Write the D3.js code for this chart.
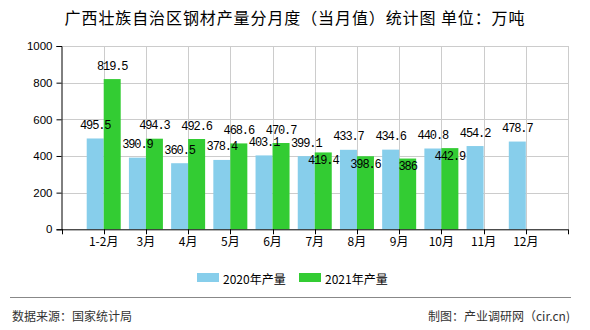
<!DOCTYPE html>
<html>
<head>
<meta charset="utf-8">
<script src="https://cdn.jsdelivr.net/npm/d3@7/dist/d3.min.js"></script>
<style>
  html, body { margin: 0; padding: 0; background: #fff; }
  svg { display: block; }
</style>
</head>
<body>
<svg id="chart" width="590" height="330"></svg>
<script>
// Monthly steel output, Guangxi (10k tonnes)
const months = ["1-2月", "3月", "4月", "5月", "6月", "7月", "8月", "9月", "10月", "11月", "12月"];
const output2020 = [495.5, 390.9, 360.5, 378.4, 403.1, 399.1, 433.7, 434.6, 440.8, 454.2, 478.7];
const output2021 = [819.5, 494.3, 492.6, 468.6, 470.7, 419.4, 398.6, 386, 442.9, null, null];
const yTicks = [0, 200, 400, 600, 800, 1000];
const seriesNames = ["2020年产量", "2021年产量"];
const colors = ["#87CEEB", "#33CC33"];

const svg = d3.select("#chart");
const plotL = 61.5, plotR = 568, plotT = 46, plotB = 229.3;
const barW = 17;

const x = d3.scalePoint().domain(months).range([plotL, plotR]).padding(1);
const y = d3.scaleLinear().domain([0, 1000]).range([plotB, plotT]);

const cjk = "'Noto Sans CJK SC', 'Noto Sans', sans-serif";
const mono = "'Liberation Mono', 'DejaVu Sans Mono', monospace";

// Title
svg.append("text")
  .attr("x", 295).attr("y", 24)
  .attr("text-anchor", "middle")
  .style("font-family", cjk).style("font-size", "16px")
  .style("letter-spacing", "0.9px")
  .attr("fill", "#000")
  .text("广西壮族自治区钢材产量分月度（当月值）统计图 单位：万吨");

// Grid
const grid = svg.append("g");
grid.selectAll("line.h").data(yTicks.filter(d => d > 0)).join("line")
  .attr("x1", plotL).attr("x2", plotR)
  .attr("y1", d => Math.round(y(d)) + 0.5).attr("y2", d => Math.round(y(d)) + 0.5)
  .attr("stroke", "#cccccc").attr("stroke-width", 1);
const vLines = months.map(m => x(m)).concat([plotR]);
grid.selectAll("line.v").data(vLines).join("line")
  .attr("x1", d => Math.round(d) + 0.5).attr("x2", d => Math.round(d) + 0.5)
  .attr("y1", plotT).attr("y2", plotB)
  .attr("stroke", "#cccccc").attr("stroke-width", 1);

// Bars
const rows = months.map((m, i) => ({ m, a: output2020[i], b: output2021[i] }));
const bars = svg.append("g");
bars.selectAll("rect.a").data(rows.filter(r => r.a != null)).join("rect")
  .attr("x", r => x(r.m) - barW).attr("width", barW)
  .attr("y", r => y(r.a)).attr("height", r => y(0) - y(r.a))
  .attr("fill", colors[0]);
bars.selectAll("rect.b").data(rows.filter(r => r.b != null)).join("rect")
  .attr("x", r => x(r.m)).attr("width", barW)
  .attr("y", r => y(r.b)).attr("height", r => y(0) - y(r.b))
  .attr("fill", colors[1]);

// Axes
const yAxis = d3.axisLeft(y).tickValues(yTicks).tickSize(5).tickPadding(4).tickFormat(d3.format("d"));
const gy = svg.append("g").attr("transform", `translate(${plotL},0)`).call(yAxis);
gy.select(".domain").attr("stroke", "#000");
gy.selectAll(".tick line").attr("stroke", "#000");
gy.selectAll(".tick text")
  .style("font-family", "'Liberation Sans', Arial, sans-serif").style("font-size", "11.5px")
  .attr("fill", "#000");

const gx = svg.append("g").attr("transform", `translate(0,${plotB})`);
gx.append("line").attr("x1", plotL).attr("x2", plotR).attr("y1", 0.5).attr("y2", 0.5)
  .attr("stroke", "#000");
gx.selectAll("line.t").data([plotL].concat(vLines)).join("line")
  .attr("x1", d => Math.round(d) + 0.5).attr("x2", d => Math.round(d) + 0.5)
  .attr("y1", 0).attr("y2", 5).attr("stroke", "#000");
gx.selectAll("text").data(months).join("text")
  .attr("x", d => x(d)).attr("y", 17)
  .attr("text-anchor", "middle")
  .style("font-family", cjk).style("font-size", "12px")
  .attr("fill", "#000")
  .text(d => d);

// Value labels: above the bar, or just inside the top of the 2021 bar
// when it would collide with the 2020 label of the same month.
const labels = svg.append("g")
  .style("font-family", mono).style("font-size", "12px").style("letter-spacing", "-1.1px");
rows.forEach(r => {
  const ya = y(r.a) - 12.5;
  labels.append("text")
    .attr("x", x(r.m) - barW / 2).attr("y", ya)
    .attr("text-anchor", "middle").attr("dominant-baseline", "central")
    .attr("fill", "#000").text(String(r.a));
  if (r.b != null) {
    let yb = y(r.b) - 12.5;
    if (Math.abs(yb - ya) < 10) yb = y(r.b) + 8.5;
    labels.append("text")
      .attr("x", x(r.m) + barW / 2).attr("y", yb)
      .attr("text-anchor", "middle").attr("dominant-baseline", "central")
      .attr("fill", "#000").text(String(r.b));
  }
});

// Legend
const legendX = [197, 299];
const legend = svg.append("g");
seriesNames.forEach((name, i) => {
  legend.append("rect")
    .attr("x", legendX[i]).attr("y", 273).attr("width", 22).attr("height", 9)
    .attr("fill", colors[i]);
  legend.append("text")
    .attr("x", legendX[i] + 26).attr("y", 278)
    .attr("dominant-baseline", "central")
    .style("font-family", cjk).style("font-size", "12px")
    .attr("fill", "#000").text(name);
});

// Footer
svg.append("line").attr("x1", 10).attr("x2", 571).attr("y1", 297.5).attr("y2", 297.5)
  .attr("stroke", "#888").attr("stroke-width", 1);
svg.append("text").attr("x", 12).attr("y", 315)
  .attr("dominant-baseline", "central")
  .style("font-family", cjk).style("font-size", "12px").attr("fill", "#333")
  .text("数据来源：国家统计局");
svg.append("text").attr("x", 570).attr("y", 315)
  .attr("text-anchor", "end").attr("dominant-baseline", "central")
  .style("font-family", cjk).style("font-size", "12px").attr("fill", "#333")
  .text("制图：产业调研网（cir.cn)");
</script>
</body>
</html>
